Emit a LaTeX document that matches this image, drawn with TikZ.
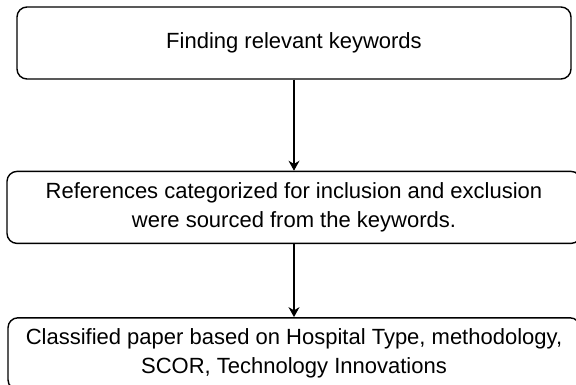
\documentclass[tikz,border=0pt]{standalone}
\usepackage{fontspec}
\setmainfont{Liberation Sans}
\usetikzlibrary{positioning,arrows.meta}

\begin{document}
\begin{tikzpicture}[x=1pt, y=1pt, every node/.style={font=\fontsize{22}{29}\selectfont},
  stage/.style={draw, rectangle, rounded corners=10pt, line width=1.4pt, minimum height=72pt, inner sep=2pt, align=center}]
  \useasboundingbox (0,0) rectangle (576,-385);
  \node[stage, minimum width=554pt] (keywords) at (294,-43) {Finding relevant keywords};
  \node[stage, minimum width=574pt, below=91pt of keywords] (references) {References categorized for inclusion and exclusion\\were sourced from the keywords.};
  \node[stage, minimum width=572pt, below=73pt of references] (classified) {Classified paper based on Hospital Type, methodology,\\SCOR, Technology Innovations};
  \draw[-{Stealth[length=10pt, width=11pt]}, line width=1.2pt] (keywords) -- (references);
  \draw[-{Stealth[length=10pt, width=11pt]}, line width=1.2pt] (references) -- (classified);
\end{tikzpicture}
\end{document}
